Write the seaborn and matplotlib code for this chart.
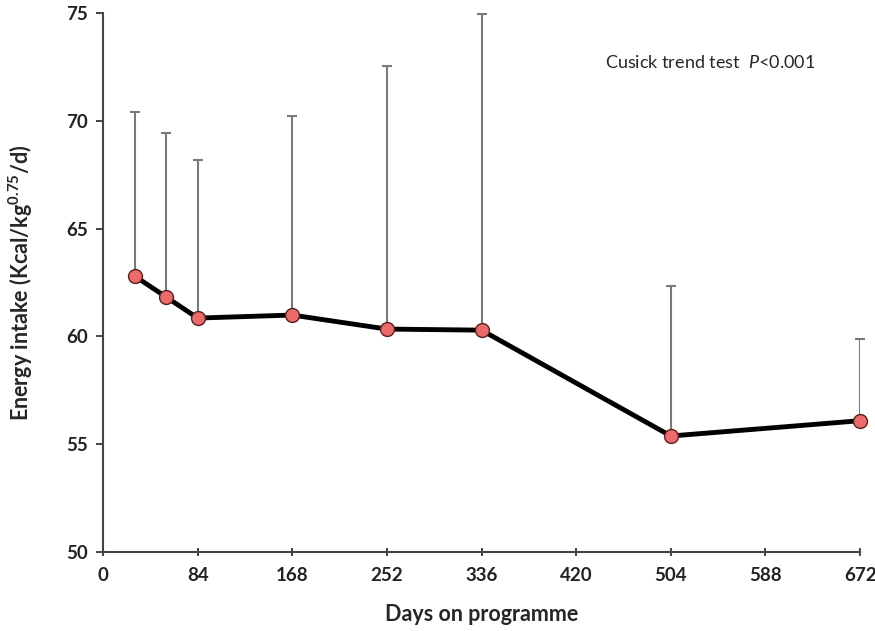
import numpy as np
import pandas as pd
import matplotlib
matplotlib.use('Agg')
import matplotlib.pyplot as plt
import seaborn as sns

# values
days = [28, 56, 84, 168, 252, 336, 504, 672]
intake_mean = [62.80, 61.83, 60.85, 60.99, 60.34, 60.29, 55.38, 56.09]
intake_upper = [70.41, 69.43, 68.18, 70.22, 72.56, 74.94, 62.34, 59.89]
x_ticks = [0, 84, 168, 252, 336, 420, 504, 588, 672]
y_ticks = [50, 55, 60, 65, 70, 75]

df = pd.DataFrame({'Days': days, 'Intake': intake_mean, 'Upper': intake_upper})

sns.set_style('ticks')
plt.rcParams['font.family'] = ['Lato', 'DejaVu Sans']
plt.rcParams['mathtext.fontset'] = 'custom'
plt.rcParams['mathtext.rm'] = 'Lato'
plt.rcParams['mathtext.it'] = 'Lato:italic'
plt.rcParams['mathtext.bf'] = 'Lato:bold'

fig = plt.figure(figsize=(8.75, 6.31), dpi=100)
ax = fig.add_axes([0.1177, 0.1252, 0.8653, 0.8542])

# upper-only error bars
err_up = df['Upper'] - df['Intake']
ax.errorbar(df['Days'], df['Intake'], yerr=[np.zeros(len(df)), err_up],
            fmt='none', ecolor='#7a7a7a', elinewidth=1.5, capsize=3.5,
            capthick=1.5, zorder=1)

sns.lineplot(data=df, x='Days', y='Intake', ax=ax, color='black', linewidth=3.5,
             marker='o', markersize=10, markerfacecolor='#ec6a6a',
             markeredgecolor='#5a2020', markeredgewidth=1.0, zorder=3)
for ln in ax.lines:
    ln.set_clip_on(False)

ax.set_xlim(0, 672)
ax.set_ylim(50, 75)
ax.set_xticks(x_ticks)
ax.set_yticks(y_ticks)
ax.tick_params(axis='x', direction='inout', length=6, width=1.2, labelsize=13.5,
               pad=8, labelcolor='#222222')
ax.tick_params(axis='y', direction='out', length=5, width=1.2, labelsize=13.5,
               pad=6, labelcolor='#222222')
for lab in ax.get_xticklabels() + ax.get_yticklabels():
    lab.set_fontweight('bold')
for s in ['left', 'bottom']:
    ax.spines[s].set_linewidth(1.5)
    ax.spines[s].set_color('#444444')
sns.despine(ax=ax)

ax.set_xlabel('Days on programme', fontsize=15.5, fontweight='bold', labelpad=14)
ax.set_ylabel(r'Energy intake (Kcal/kg$\mathbf{^{0.75}}$/d)', fontsize=15.5,
              fontweight='bold', labelpad=22)

ax.text(446, 72.7, r'Cusick trend test  $\it{P}$<0.001', fontsize=13,
        ha='left', va='center')

fig.savefig('out.png', dpi=100)
